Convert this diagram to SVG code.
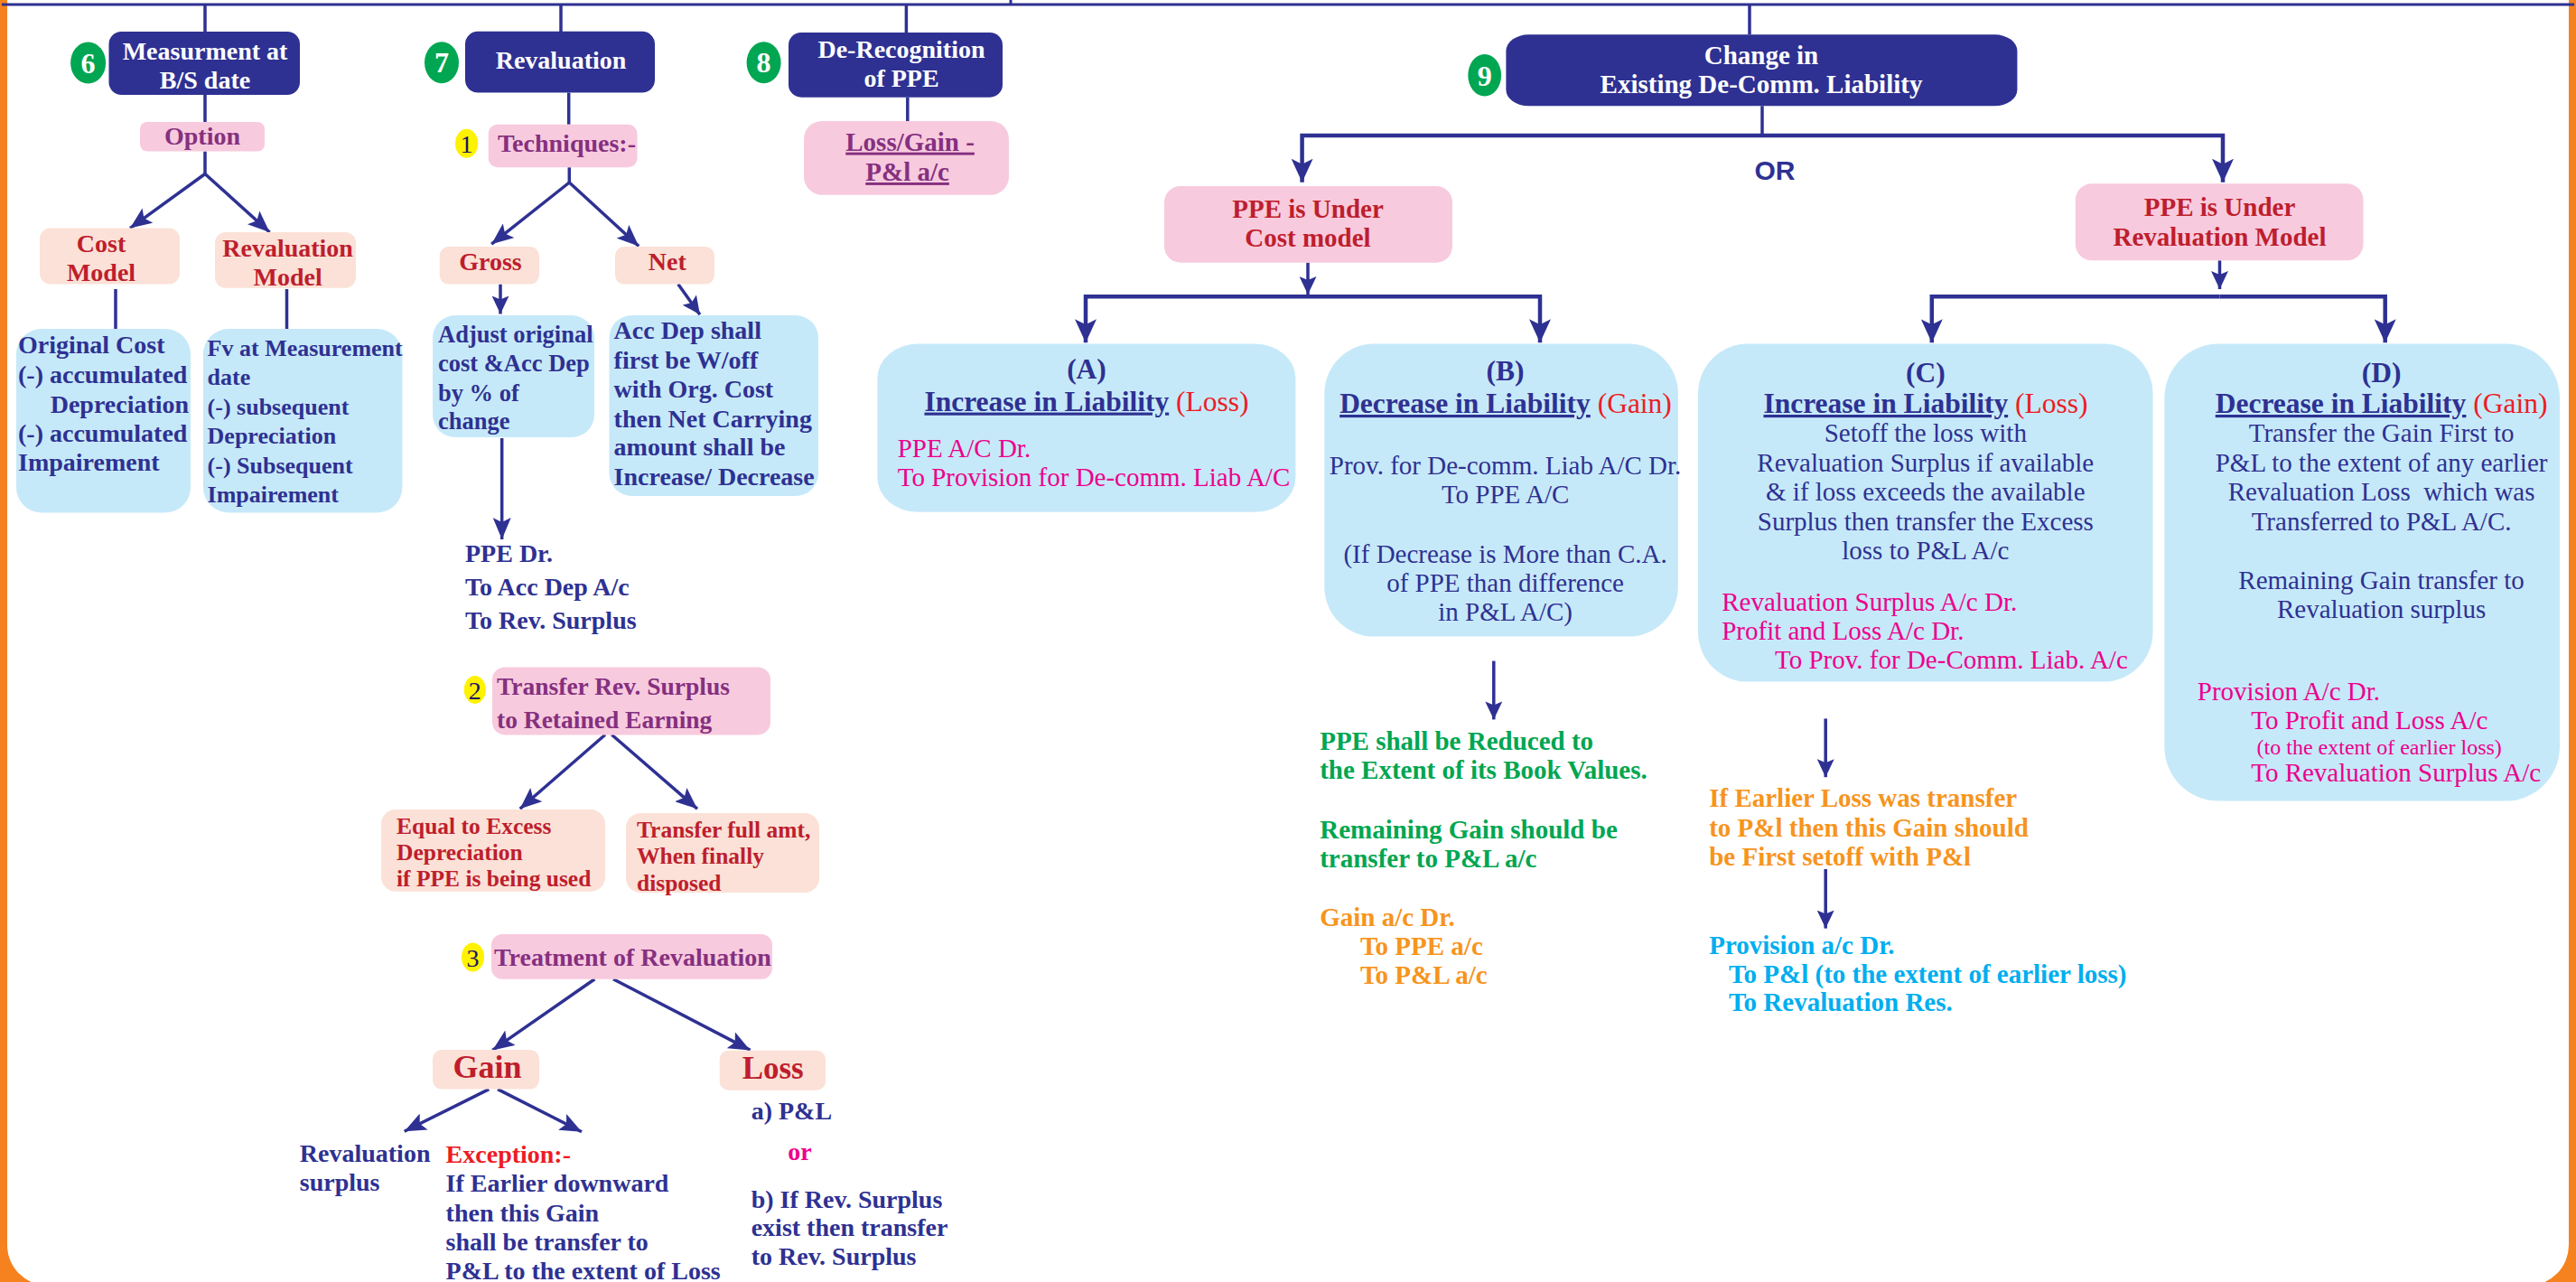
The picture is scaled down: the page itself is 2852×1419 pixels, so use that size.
<svg xmlns="http://www.w3.org/2000/svg" width="2852" height="1419" viewBox="0 0 2852 1419">
<defs>
<style>
text{font-family:"Liberation Serif","Times New Roman",serif}
.nb{fill:#2E3192}
.pk{fill:#F8CADE}
.pc{fill:#FBE1D7}
.lb{fill:#C6E9F9}
.gc{fill:#00A651}
.yc{fill:#FFF200}
.hd{font-size:28px;font-weight:bold;fill:#fff;text-anchor:middle}
.gn{font-size:32px;font-weight:bold;fill:#fff;text-anchor:middle}
.yn{font-size:28px;fill:#1B1464;text-anchor:middle}
.pu{font-size:28px;font-weight:bold;fill:#85307F}
.dr{font-size:28px;font-weight:bold;fill:#BE1E2D}
.nv{font-size:28px;font-weight:bold;fill:#2E3192}
.nr{font-size:29px;fill:#2E3192}
.mg{font-size:29px;fill:#EC008C}
.gr{font-size:29px;font-weight:bold;fill:#00A651}
.og{font-size:29px;font-weight:bold;fill:#F7941D}
.cy{font-size:29px;font-weight:bold;fill:#00AEEF}
.tt{font-size:31.5px;font-weight:bold;fill:#2E3192;text-anchor:middle}
.rr{font-weight:normal;fill:#ED1C24}
.mid{text-anchor:middle}
.bar{stroke-width:4.5}
</style>
<marker id="ah" markerUnits="userSpaceOnUse" viewBox="0 0 24 20" refX="24" refY="10" markerWidth="24" markerHeight="20" orient="auto"><path d="M0,0 L24,10 L0,20 L5,10 Z" fill="#2E3192"/></marker>
<marker id="ahb" markerUnits="userSpaceOnUse" viewBox="0 0 26 24" refX="26" refY="12" markerWidth="26" markerHeight="24" orient="auto"><path d="M0,0 L26,12 L0,24 L6,12 Z" fill="#2E3192"/></marker>
<marker id="ahs" markerUnits="userSpaceOnUse" viewBox="0 0 20 19" refX="20" refY="9.5" markerWidth="20" markerHeight="19" orient="auto"><path d="M0,0 L20,9.5 L0,19 L4,9.5 Z" fill="#2E3192"/></marker>
</defs>

<!-- page frame: orange border with rounded white sheet -->
<g id="frame">
<rect x="0" y="0" width="2852" height="1419" fill="#F5821F"/>
<rect x="8" y="-80" width="2836" height="1503" rx="45" ry="45" fill="#fff"/>
</g>

<!-- all connector lines and arrows -->
<g id="connectors" fill="none" stroke="#2E3192" stroke-width="3.5">
<path d="M2,5 H2850" stroke-width="3"/>
<path d="M1119,0 V5" stroke-width="3"/>
<path d="M227,5 V35"/>
<path d="M227,105 V135"/>
<path d="M227,167.6 V192.5"/>
<path d="M227,192.5 L144,252.6" marker-end="url(#ah)"/>
<path d="M227,192.5 L298.5,257" marker-end="url(#ah)"/>
<path d="M128,320 V364"/>
<path d="M317.5,320 V364"/>
<path d="M621,5 V35"/>
<path d="M629.7,102.6 V137.8"/>
<path d="M630.3,185.2 V202"/>
<path d="M630.3,202 L544.2,270.2" marker-end="url(#ah)"/>
<path d="M630.3,202 L707.2,272.5" marker-end="url(#ah)"/>
<path d="M554,314.6 V347.5" marker-end="url(#ahs)"/>
<path d="M750.8,314.6 L774.9,348.2" marker-end="url(#ahs)"/>
<path d="M555.7,485 V597" marker-end="url(#ah)"/>
<path d="M670,813.3 L575.7,895.3" marker-end="url(#ah)"/>
<path d="M677.3,813.3 L772,895.3" marker-end="url(#ah)"/>
<path d="M658.4,1083.7 L545.3,1162.4" marker-end="url(#ah)"/>
<path d="M679,1083.7 L830.6,1162.4" marker-end="url(#ah)"/>
<path d="M541.3,1205.6 L447.7,1252.2" marker-end="url(#ah)"/>
<path d="M551,1205.6 L644,1252.8" marker-end="url(#ah)"/>
<path d="M1003.4,5 V36"/>
<path d="M1004.8,107.7 V134"/>
<path d="M1937,5 V38.3"/>
<path d="M1951,117.3 V150"/>
<path class="bar" d="M1951,150 H1441.6 V201.7" marker-end="url(#ahb)"/>
<path class="bar" d="M1951,150 H2461 V201.7" marker-end="url(#ahb)"/>
<path d="M1448,290.7 V326" marker-end="url(#ahs)"/>
<path class="bar" d="M1448,328.3 H1202 V379.3" marker-end="url(#ahb)"/>
<path class="bar" d="M1448,328.3 H1705 V379.3" marker-end="url(#ahb)"/>
<path d="M2457.5,288.3 V320" marker-end="url(#ahs)"/>
<path class="bar" d="M2457.5,328.3 H2138.8 V379.3" marker-end="url(#ahb)"/>
<path class="bar" d="M2457.5,328.3 H2640.7 V379.3" marker-end="url(#ahb)"/>
<path d="M1653.8,731.6 V796.4" marker-end="url(#ahs)"/>
<path d="M2021.2,795.4 V860.2" marker-end="url(#ahs)"/>
<path d="M2021.2,962 V1027.6" marker-end="url(#ahs)"/>
</g>

<!-- 6: measurement at balance sheet date -->
<g id="n6">
<rect class="nb" x="120.5" y="35" width="211.5" height="70" rx="14"/>
<ellipse class="gc" cx="97.6" cy="69.6" rx="19.5" ry="23"/>
<text class="gn" x="97.6" y="80.5">6</text>
<text class="hd" x="227" y="65.8">Measurment at</text>
<text class="hd" x="227" y="97.6">B/S date</text>
</g>
<g id="n6-option">
<rect class="pk" x="155" y="135" width="138" height="32.6" rx="8"/>
<text class="pu mid" x="224" y="160">Option</text>
</g>
<g id="n6-cost-model">
<rect class="pc" x="44" y="252.6" width="155" height="62" rx="12"/>
<text class="dr mid" x="112" y="279.4">Cost</text>
<text class="dr mid" x="112" y="310.7">Model</text>
</g>
<g id="n6-reval-model">
<rect class="pc" x="238" y="257" width="156" height="61.8" rx="12"/>
<text class="dr mid" x="318.6" y="284">Revaluation</text>
<text class="dr mid" x="318.6" y="315.7">Model</text>
</g>
<g id="n6-cost-detail">
<rect class="lb" x="18" y="364" width="193" height="203.5" rx="28"/>
<text class="nv" x="20" y="391">Original Cost</text>
<text class="nv" x="20" y="424">(-) accumulated</text>
<text class="nv" x="55.7" y="456.5">Depreciation</text>
<text class="nv" x="20" y="489">(-) accumulated</text>
<text class="nv" x="20" y="521">Impairement</text>
</g>
<g id="n6-reval-detail">
<rect class="lb" x="225" y="364" width="220.4" height="203.5" rx="28"/>
<text class="nv" x="229.6" y="394" style="font-size:26px">Fv at Measurement</text>
<text class="nv" x="229.6" y="426" style="font-size:26px">date</text>
<text class="nv" x="229.6" y="459" style="font-size:26px">(-) subsequent</text>
<text class="nv" x="229.6" y="491" style="font-size:26px">Depreciation</text>
<text class="nv" x="229.6" y="524" style="font-size:26px">(-) Subsequent</text>
<text class="nv" x="229.6" y="555.6" style="font-size:26px">Impairement</text>
</g>

<!-- 7: revaluation -->
<g id="n7">
<rect class="nb" x="515" y="34.8" width="210" height="67.8" rx="14"/>
<ellipse class="gc" cx="489" cy="69.3" rx="19" ry="23"/>
<text class="gn" x="489" y="80.2">7</text>
<text class="hd" x="621" y="75.8">Revaluation</text>
</g>
<g id="n7-techniques">
<ellipse class="yc" cx="516.6" cy="158.8" rx="12.6" ry="16"/>
<text class="yn" x="516.6" y="168.5">1</text>
<rect class="pk" x="540.7" y="137.8" width="164.8" height="47.4" rx="10"/>
<text class="pu" x="551" y="168.4">Techniques:-</text>
</g>
<g id="n7-gross">
<rect class="pc" x="486.7" y="273" width="110.3" height="41.6" rx="10"/>
<text class="dr mid" x="543" y="299">Gross</text>
</g>
<g id="n7-net">
<rect class="pc" x="681" y="273" width="110" height="41.6" rx="10"/>
<text class="dr mid" x="738.8" y="299">Net</text>
</g>
<g id="n7-gross-detail">
<rect class="lb" x="479" y="349" width="179" height="135" rx="25"/>
<text class="nv" x="485" y="378.8" style="font-size:26.5px">Adjust original</text>
<text class="nv" x="485" y="411.4" style="font-size:26.5px">cost &amp;Acc Dep</text>
<text class="nv" x="485" y="444" style="font-size:26.5px">by % of</text>
<text class="nv" x="485" y="474.5" style="font-size:26.5px">change</text>
</g>
<g id="n7-net-detail">
<rect class="lb" x="674.5" y="349" width="231.5" height="200" rx="25"/>
<text class="nv" x="679.6" y="375">Acc Dep shall</text>
<text class="nv" x="679.6" y="407.5">first be W/off</text>
<text class="nv" x="679.6" y="440">with Org. Cost</text>
<text class="nv" x="679.6" y="472.6">then Net Carrying</text>
<text class="nv" x="679.6" y="504.4">amount shall be</text>
<text class="nv" x="679.6" y="537">Increase/ Decrease</text>
</g>
<g id="n7-entry">
<text class="nv" x="515" y="622">PPE Dr.</text>
<text class="nv" x="515" y="659">To Acc Dep A/c</text>
<text class="nv" x="515" y="695.8">To Rev. Surplus</text>
</g>
<g id="n7-transfer">
<ellipse class="yc" cx="525.8" cy="763.4" rx="12" ry="15.5"/>
<text class="yn" x="525.8" y="773.5">2</text>
<rect class="pk" x="545" y="738.4" width="308" height="75" rx="14"/>
<text class="pu" x="550" y="769" style="font-size:27.5px">Transfer Rev. Surplus</text>
<text class="pu" x="550" y="806" style="font-size:27.5px">to Retained Earning</text>
</g>
<g id="n7-excess">
<rect class="pc" x="422" y="896" width="248" height="90.7" rx="16"/>
<text class="dr" x="439" y="923" style="font-size:25.5px">Equal to Excess</text>
<text class="dr" x="439" y="951.8" style="font-size:25.5px">Depreciation</text>
<text class="dr" x="439" y="981" style="font-size:25.5px">if PPE is being used</text>
</g>
<g id="n7-full">
<rect class="pc" x="693" y="900" width="214" height="88" rx="16"/>
<text class="dr" x="705" y="927" style="font-size:25.5px">Transfer full amt,</text>
<text class="dr" x="705" y="956" style="font-size:25.5px">When finally</text>
<text class="dr" x="705" y="985.6" style="font-size:25.5px">disposed</text>
</g>
<g id="n7-treatment">
<ellipse class="yc" cx="523.5" cy="1059.4" rx="12.5" ry="16"/>
<text class="yn" x="523.5" y="1069.5">3</text>
<rect class="pk" x="544" y="1034" width="311" height="49.7" rx="12"/>
<text class="pu" x="547" y="1069">Treatment of Revaluation</text>
</g>
<g id="n7-gain">
<rect class="pc" x="479" y="1162" width="118" height="43.6" rx="10"/>
<text class="dr mid" x="539.6" y="1193" style="font-size:36px">Gain</text>
</g>
<g id="n7-loss">
<rect class="pc" x="796.7" y="1162.7" width="117.3" height="44" rx="10"/>
<text class="dr mid" x="855.7" y="1194" style="font-size:35px">Loss</text>
</g>
<g id="n7-gain-surplus">
<text class="nv" x="331.8" y="1286">Revaluation</text>
<text class="nv" x="331.8" y="1317.6">surplus</text>
</g>
<g id="n7-gain-exception">
<text class="nv" x="493.6" y="1287" style="fill:#ED1C24">Exception:-</text>
<text class="nv" x="493.6" y="1319.3">If Earlier downward</text>
<text class="nv" x="493.6" y="1352">then this Gain</text>
<text class="nv" x="493.6" y="1384">shall be transfer to</text>
<text class="nv" x="493.6" y="1415.7">P&amp;L to the extent of Loss</text>
</g>
<g id="n7-loss-detail">
<text class="nv" x="831.7" y="1239.3">a) P&amp;L</text>
<text class="nv" x="872.3" y="1284.3" style="fill:#EC008C">or</text>
<text class="nv" x="831.7" y="1336.7">b) If Rev. Surplus</text>
<text class="nv" x="831.7" y="1368.3">exist then transfer</text>
<text class="nv" x="831.7" y="1400">to Rev. Surplus</text>
</g>

<!-- 8: de-recognition -->
<g id="n8">
<rect class="nb" x="873" y="36" width="237" height="71.7" rx="14"/>
<ellipse class="gc" cx="845.6" cy="69.3" rx="19" ry="23"/>
<text class="gn" x="845.6" y="80.2">8</text>
<text class="hd" x="998" y="64">De-Recognition</text>
<text class="hd" x="998" y="96">of PPE</text>
</g>
<g id="n8-result">
<rect class="pk" x="890" y="134" width="227" height="81.7" rx="20"/>
<text class="pu mid" x="1007.6" y="166.7" style="font-size:29px" text-decoration="underline">Loss/Gain -</text>
<text class="pu mid" x="1004.6" y="200" style="font-size:29px" text-decoration="underline">P&amp;l a/c</text>
</g>

<!-- 9: change in existing decommissioning liability -->
<g id="n9">
<rect class="nb" x="1667.4" y="38.3" width="566" height="79" rx="25" ry="18"/>
<ellipse class="gc" cx="1643.7" cy="83.3" rx="18.4" ry="23.3"/>
<text class="gn" x="1643.7" y="94.5">9</text>
<text class="hd" x="1950" y="70.7" style="font-size:29px">Change in</text>
<text class="hd" x="1950" y="103.3" style="font-size:29px">Existing De-Comm. Liability</text>
</g>
<g id="n9-or">
<text x="1965" y="199.3" text-anchor="middle" style="font-family:'Liberation Sans',Arial,sans-serif;font-weight:bold;font-size:30px;fill:#2E3192">OR</text>
</g>
<g id="n9-cost">
<rect class="pk" x="1289" y="206" width="319" height="84.7" rx="18"/>
<text class="dr mid" x="1448" y="240.7" style="font-size:29px">PPE is Under</text>
<text class="dr mid" x="1448" y="273.3" style="font-size:29px">Cost model</text>
</g>
<g id="n9-reval">
<rect class="pk" x="2297.8" y="203.3" width="318.7" height="85" rx="18"/>
<text class="dr mid" x="2457.5" y="239.3" style="font-size:29px">PPE is Under</text>
<text class="dr mid" x="2457.5" y="271.7" style="font-size:29px">Revaluation Model</text>
</g>
<g id="n9-a">
<rect class="lb" x="971.4" y="380.6" width="463" height="186.2" rx="45" ry="38"/>
<text class="tt" x="1203" y="418.9">(A)</text>
<text class="tt" x="1203" y="454.6"><tspan text-decoration="underline">Increase in Liability</tspan> <tspan class="rr">(Loss)</tspan></text>
<text class="mg" x="993.7" y="505.6">PPE A/C Dr.</text>
<text class="mg" x="993.7" y="537.8">To Provision for De-comm. Liab A/C</text>
</g>
<g id="n9-b">
<rect class="lb" x="1466.3" y="380.6" width="391.6" height="324" rx="55"/>
<text class="tt" x="1666.6" y="421.4">(B)</text>
<text class="tt" x="1667" y="457"><tspan text-decoration="underline">Decrease in Liability</tspan> <tspan class="rr">(Gain)</tspan></text>
<text class="nr mid" x="1666.6" y="524.5">Prov. for De-comm. Liab A/C Dr.</text>
<text class="nr mid" x="1666.6" y="556.6">To PPE A/C</text>
<text class="nr mid" x="1666.6" y="623">(If Decrease is More than C.A.</text>
<text class="nr mid" x="1666.6" y="654.6">of PPE than difference</text>
<text class="nr mid" x="1666.6" y="686.7">in P&amp;L A/C)</text>
</g>
<g id="n9-b-note">
<text class="gr" x="1461.2" y="829.6">PPE shall be Reduced to</text>
<text class="gr" x="1461.2" y="861.7">the Extent of its Book Values.</text>
<text class="gr" x="1461.2" y="927.6">Remaining Gain should be</text>
<text class="gr" x="1461.2" y="959.7">transfer to P&amp;L a/c</text>
<text class="og" x="1461.2" y="1024.5">Gain a/c Dr.</text>
<text class="og" x="1505.9" y="1056.6">To PPE a/c</text>
<text class="og" x="1505.9" y="1088.8">To P&amp;L a/c</text>
</g>
<g id="n9-c">
<rect class="lb" x="1880" y="380.6" width="503.5" height="374" rx="55"/>
<text class="tt" x="2131.8" y="423">(C)</text>
<text class="tt" x="2132" y="457"><tspan text-decoration="underline">Increase in Liability</tspan> <tspan class="rr">(Loss)</tspan></text>
<text class="nr mid" x="2131.8" y="489.3">Setoff the loss with</text>
<text class="nr mid" x="2131.8" y="522.4">Revaluation Surplus if available</text>
<text class="nr mid" x="2131.8" y="554">&amp; if loss exceeds the available</text>
<text class="nr mid" x="2131.8" y="587">Surplus then transfer the Excess</text>
<text class="nr mid" x="2131.8" y="618.9">loss to P&amp;L A/c</text>
<text class="mg" x="1906.2" y="675.5">Revaluation Surplus A/c Dr.</text>
<text class="mg" x="1906.2" y="708">Profit and Loss A/c Dr.</text>
<text class="mg" x="1965" y="740.3">To Prov. for De-Comm. Liab. A/c</text>
</g>
<g id="n9-c-note">
<text class="og" x="1892.2" y="893.4">If Earlier Loss was transfer</text>
<text class="og" x="1892.2" y="925.5">to P&amp;l then this Gain should</text>
<text class="og" x="1892.2" y="958.2">be First setoff with P&amp;l</text>
</g>
<g id="n9-c-entry">
<text class="cy" x="1892.2" y="1055.6">Provision a/c Dr.</text>
<text class="cy" x="1913.9" y="1088.3">To P&amp;l (to the extent of earlier loss)</text>
<text class="cy" x="1913.9" y="1119.4">To Revaluation Res.</text>
</g>
<g id="n9-d">
<rect class="lb" x="2396.3" y="380.6" width="437.7" height="506" rx="60"/>
<text class="tt" x="2636.6" y="423">(D)</text>
<text class="tt" x="2636.6" y="457"><tspan text-decoration="underline">Decrease in Liability</tspan> <tspan class="rr">(Gain)</tspan></text>
<text class="nr mid" x="2636.6" y="489.3">Transfer the Gain First to</text>
<text class="nr mid" x="2636.6" y="522.4">P&amp;L to the extent of any earlier</text>
<text class="nr mid" x="2636.6" y="554">Revaluation Loss&#160; which was</text>
<text class="nr mid" x="2636.6" y="587">Transferred to P&amp;L A/C.</text>
<text class="nr mid" x="2636.6" y="652">Remaining Gain transfer to</text>
<text class="nr mid" x="2636.6" y="684.2">Revaluation surplus</text>
<text class="mg" x="2432.8" y="774.5">Provision A/c Dr.</text>
<text class="mg" x="2492.2" y="806.6">To Profit and Loss A/c</text>
<text class="mg" x="2498.6" y="834.7" style="font-size:24px">(to the extent of earlier loss)</text>
<text class="mg" x="2492.2" y="865.3">To Revaluation Surplus A/c</text>
</g>
</svg>
